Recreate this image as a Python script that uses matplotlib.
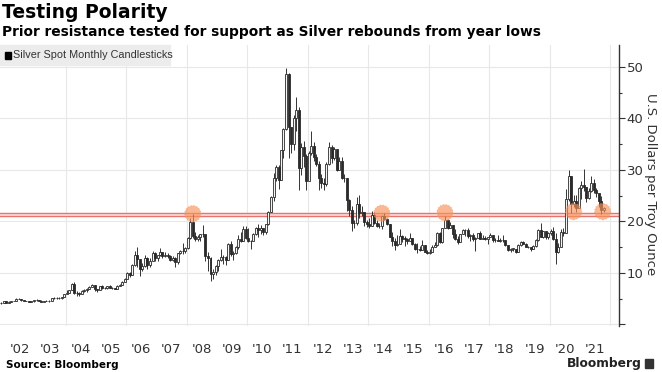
import numpy as np
import pandas as pd
import matplotlib
matplotlib.use("Agg")
import matplotlib.pyplot as plt
import matplotlib.dates as mdates
from matplotlib.patches import Rectangle

# Monthly silver spot, Nov 2001 .. Oct 2021 (open = previous month close)
first_open = 4.18
closes = [
    4.13, 4.60,
    4.22, 4.43, 4.56, 4.56, 4.98, 4.91, 4.66, 4.55, 4.55, 4.43, 4.47, 4.67,
    4.80, 4.55, 4.39, 4.55, 4.56, 4.56, 5.09, 5.16, 5.14, 5.11, 5.35, 5.96,
    6.11, 6.69, 7.87, 6.17, 6.08, 5.83, 6.54, 6.73, 6.93, 7.27, 7.63, 6.82,
    6.72, 7.48, 7.14, 7.00, 7.41, 7.09, 7.05, 6.87, 7.53, 7.70, 8.31, 8.83,
    9.93, 9.65, 11.48, 13.40, 12.72, 10.81, 11.28, 12.90, 11.49, 12.37, 13.91, 12.90,
    13.47, 14.14, 13.37, 13.57, 13.32, 12.46, 12.94, 12.03, 13.81, 14.22, 14.31, 14.76,
    16.81, 19.84, 17.19, 16.52, 16.92, 17.56, 17.52, 13.36, 12.93, 9.87, 10.17, 11.30,
    12.54, 13.03, 13.11, 12.49, 15.68, 13.59, 13.95, 14.95, 16.66, 16.29, 18.47, 16.84,
    16.14, 16.29, 17.50, 18.70, 18.30, 18.67, 17.99, 19.42, 21.85, 24.70, 28.39, 30.63,
    27.96, 33.81, 37.87, 48.58, 38.28, 35.03, 40.03, 41.58, 30.45, 34.49, 32.72, 27.90,
    33.25, 34.55, 32.48, 31.12, 28.39, 27.42, 27.33, 31.15, 34.54, 32.28, 34.10, 29.95,
    31.82, 28.44, 28.34, 24.19, 22.26, 19.72, 19.71, 23.47, 21.70, 21.88, 19.80, 19.50,
    19.15, 21.25, 19.75, 19.07, 19.04, 21.04, 20.40, 19.44, 17.05, 16.20, 15.50, 15.57,
    17.23, 16.64, 16.62, 16.14, 16.77, 15.64, 14.71, 14.63, 14.51, 15.50, 14.14, 13.82,
    14.14, 14.98, 15.41, 17.84, 16.06, 18.69, 20.35, 18.67, 19.24, 17.64, 16.54, 15.99,
    17.48, 18.41, 18.26, 17.23, 17.46, 16.56, 16.74, 17.69, 16.65, 16.74, 16.51, 16.92,
    17.34, 16.42, 16.35, 16.29, 16.44, 16.30, 15.50, 14.42, 14.68, 14.68, 14.15, 15.48,
    16.08, 15.61, 15.11, 14.97, 14.56, 15.31, 16.38, 18.35, 16.96, 18.11, 16.99, 17.85,
    18.05, 16.64, 13.97, 14.98, 17.90, 17.78, 24.38, 28.73, 23.44, 23.89, 22.64, 26.41,
    26.99, 26.68, 24.50, 25.95, 27.48, 26.07, 25.50, 23.98, 22.21, 22.60,
]
highs = [
    4.33, 4.65,
    4.62, 4.47, 4.64, 4.64, 5.11, 5.10, 5.00, 4.66, 4.65, 4.56, 4.58, 4.77,
    4.93, 4.81, 4.67, 4.64, 4.79, 4.67, 5.20, 5.35, 5.24, 5.24, 5.41, 5.98,
    6.64, 6.78, 7.98, 8.29, 6.50, 6.29, 6.73, 6.88, 7.06, 7.49, 7.85, 7.71,
    6.86, 7.55, 7.58, 7.34, 7.47, 7.62, 7.31, 7.14, 7.57, 7.83, 8.35, 9.05,
    10.10, 10.22, 11.72, 14.17, 14.94, 12.78, 11.93, 13.41, 13.13, 12.81, 14.20, 14.06,
    13.55, 14.85, 14.14, 14.08, 13.87, 13.55, 13.20, 13.00, 13.86, 14.55, 15.82, 14.98,
    16.96, 20.68, 21.35, 17.88, 17.34, 17.61, 19.40, 17.12, 14.03, 13.00, 10.85, 11.52,
    12.64, 14.60, 13.53, 13.30, 15.81, 16.22, 14.21, 15.21, 17.34, 17.86, 19.16, 19.18,
    18.81, 16.40, 17.76, 18.89, 19.43, 19.32, 18.68, 19.50, 22.09, 25.01, 29.34, 31.00,
    30.93, 33.92, 38.18, 49.79, 48.72, 38.36, 40.72, 44.23, 42.26, 35.29, 35.63, 33.17,
    33.71, 37.47, 35.47, 33.05, 31.67, 29.16, 28.39, 31.48, 35.36, 34.84, 34.43, 34.15,
    32.46, 32.43, 29.17, 28.47, 24.39, 22.94, 20.36, 24.74, 25.12, 22.91, 21.74, 20.33,
    20.61, 22.04, 21.78, 20.35, 19.71, 21.18, 21.63, 20.67, 19.52, 17.86, 16.85, 17.34,
    18.50, 17.36, 17.21, 16.77, 17.78, 16.78, 15.82, 15.78, 15.22, 16.47, 15.47, 14.47,
    14.70, 15.48, 15.98, 17.86, 18.00, 18.77, 21.14, 20.47, 19.95, 19.32, 18.55, 17.23,
    17.52, 18.49, 18.50, 18.66, 17.56, 17.69, 16.91, 17.85, 18.20, 17.46, 17.18, 17.04,
    17.72, 17.30, 16.75, 17.33, 16.69, 17.30, 16.05, 15.48, 14.91, 14.86, 14.67, 15.58,
    16.18, 16.12, 15.73, 15.21, 14.99, 15.51, 16.60, 18.61, 19.75, 18.21, 18.02, 17.97,
    18.60, 18.91, 17.80, 15.73, 18.50, 18.71, 26.20, 29.91, 28.90, 25.22, 25.08, 26.77,
    27.76, 30.10, 26.67, 26.47, 28.75, 28.29, 26.47, 24.87, 24.84, 22.85,
]
lows = [
    4.05, 4.12,
    4.20, 4.21, 4.40, 4.48, 4.56, 4.87, 4.60, 4.49, 4.49, 4.36, 4.38, 4.44,
    4.63, 4.46, 4.37, 4.36, 4.53, 4.45, 4.48, 4.94, 4.88, 4.86, 5.02, 5.30,
    5.92, 6.05, 6.65, 5.83, 5.50, 5.61, 5.82, 6.25, 6.36, 6.83, 7.18, 6.59,
    6.39, 6.66, 6.90, 6.84, 6.96, 7.05, 6.93, 6.79, 6.83, 7.39, 7.72, 8.19,
    8.78, 9.27, 9.64, 11.28, 11.14, 9.42, 10.36, 11.22, 10.86, 11.09, 12.36, 12.33,
    12.38, 13.32, 12.92, 13.09, 12.82, 12.36, 12.40, 11.14, 11.79, 13.63, 13.68, 13.95,
    14.71, 16.60, 16.88, 16.28, 16.18, 16.17, 17.07, 12.32, 10.41, 8.45, 8.80, 9.58,
    10.44, 12.23, 11.74, 11.62, 12.48, 13.29, 12.45, 13.73, 14.60, 16.00, 16.12, 16.55,
    15.92, 14.64, 16.38, 17.40, 17.03, 17.62, 17.36, 17.49, 19.26, 21.77, 23.97, 27.79,
    26.35, 28.04, 32.35, 37.75, 32.33, 33.30, 33.77, 37.60, 26.07, 29.00, 30.54, 26.15,
    28.00, 32.90, 31.74, 30.75, 26.18, 26.56, 26.08, 26.93, 30.97, 31.41, 31.84, 29.83,
    29.94, 28.27, 27.67, 22.09, 21.15, 18.19, 18.81, 19.40, 20.74, 21.01, 19.20, 18.85,
    18.77, 19.14, 19.55, 18.97, 18.69, 18.61, 20.30, 19.25, 16.93, 15.14, 14.42, 15.29,
    15.58, 16.06, 15.27, 15.65, 16.12, 15.50, 14.38, 13.94, 14.28, 14.46, 13.98, 13.62,
    13.59, 14.00, 14.94, 15.21, 15.84, 15.89, 18.68, 18.62, 18.73, 16.72, 16.35, 15.63,
    15.91, 17.51, 17.08, 16.81, 16.19, 16.21, 14.34, 16.70, 16.61, 16.66, 16.46, 15.63,
    16.92, 16.03, 16.05, 16.12, 16.06, 16.03, 15.24, 14.28, 13.97, 14.29, 13.91, 14.10,
    15.32, 15.55, 15.00, 14.79, 14.33, 14.58, 15.07, 16.26, 16.94, 16.87, 16.66, 16.59,
    17.42, 16.38, 11.64, 13.92, 14.99, 17.23, 17.70, 24.06, 21.68, 22.81, 21.89, 22.57,
    24.36, 25.93, 23.78, 24.26, 25.62, 25.60, 24.68, 22.71, 21.42, 21.90,
]

# prior resistance band and the touches marked on the chart
resistance = [21.1, 21.6]
touch_dates = ["2008-03-15", "2014-06-15", "2016-07-15", "2020-10-15", "2021-10-01"]
touch_levels = [21.5, 21.6, 21.7, 21.9, 21.9]

year_labels = ["'02", "'03", "'04", "'05", "'06", "'07", "'08", "'09", "'10", "'11",
               "'12", "'13", "'14", "'15", "'16", "'17", "'18", "'19", "'20", "'21"]

dates = pd.date_range("2001-11-01", periods=len(closes), freq="MS") + pd.Timedelta(days=14)
x = mdates.date2num(dates)
c = np.array(closes)
o = np.array([first_open] + closes[:-1])
h = np.array(highs)
l = np.array(lows)
up = c >= o
bottom = np.minimum(o, c)
height = np.maximum(np.abs(c - o), 0.08)

fig = plt.figure(figsize=(6.62, 3.72), dpi=100)
ax = fig.add_axes([0.0, 1 - 326 / 372, 619 / 662, (326 - 45) / 372])

grid_col = "#e8e8e8"
for yr in range(2004, 2023, 2):
    ax.axvline(mdates.date2num(pd.Timestamp(f"{yr}-01-01")), color=grid_col, lw=0.8, zorder=0)
ax.grid(axis="y", which="major", color=grid_col, lw=0.8, zorder=0)
ax.set_axisbelow(True)

# resistance band
ax.axhspan(resistance[0], resistance[1], color="#fbe4e2", lw=0, zorder=1)
for lvl in resistance:
    ax.axhline(lvl, color="#e8736e", lw=1.0, zorder=2)

# candles
ax.vlines(x, l, h, color="#333333", lw=0.7, zorder=3)
ax.bar(x[up], height[up], bottom=bottom[up], width=24, color="#f4f4f4",
       edgecolor="#2a2a2a", lw=0.6, zorder=4)
ax.bar(x[~up], height[~up], bottom=bottom[~up], width=24, color="#2a2a2a",
       edgecolor="#2a2a2a", lw=0.6, zorder=4)

# touch markers
tx = mdates.date2num(pd.to_datetime(touch_dates))
ax.scatter(tx, touch_levels, s=135, color="#f7935a", alpha=0.65,
           edgecolors="#f0a070", linestyle=":", lw=0.8, zorder=5)

ax.set_xlim(mdates.date2num(pd.Timestamp("2001-10-31")),
            mdates.date2num(pd.Timestamp("2022-04-16")))
ax.set_ylim(-0.3, 54.25)

# axes styling
for s in ["left", "top", "bottom"]:
    ax.spines[s].set_visible(False)
ax.spines["right"].set_color("#333333")
ax.spines["right"].set_linewidth(1.0)

ax.yaxis.tick_right()
ax.set_yticks([0, 10, 20, 30, 40, 50])
ax.set_yticklabels(["", "10", "20", "30", "40", "50"])
ax.set_yticks([5, 15, 25, 35, 45], minor=True)
ax.tick_params(axis="y", which="major", length=4, width=0.8, colors="#333333",
               labelsize=9.5, pad=1.5)
ax.tick_params(axis="y", which="minor", length=2.5, width=0.8, colors="#333333")

mid_years = [pd.Timestamp(f"{2002 + i}-07-01") for i in range(len(year_labels))]
ax.set_xticks(mdates.date2num(mid_years))
ax.set_xticklabels(year_labels)
ax.tick_params(axis="x", length=0, labelsize=9.5, colors="#333333", pad=12)

fig.text(650 / 662, 1 - 184 / 372, "U.S. Dollars per Troy Ounce", rotation=270,
         ha="center", va="center", fontsize=9.5, color="#333333")

# legend box
fig.patches.append(Rectangle((0.0, 1 - 65 / 372), 170 / 662, 20 / 372,
                             transform=fig.transFigure, color="#ececec", zorder=0))
fig.patches.append(Rectangle((5 / 662, 1 - 59 / 372), 6 / 662, 7 / 372,
                             transform=fig.transFigure, color="black", zorder=1))
fig.text(13 / 662, 1 - 55.5 / 372, "Silver Spot Monthly Candlesticks", va="center",
         fontsize=7.8, color="#333333", family=["Liberation Sans", "DejaVu Sans"])

# titles
fig.text(2 / 662, 1 - 3 / 372, "Testing Polarity", va="top", fontsize=13.5,
         fontweight="bold", color="black")
fig.text(2 / 662, 1 - 25 / 372,
         "Prior resistance tested for support as Silver rebounds from year lows",
         va="top", fontsize=9.9, fontweight="bold", color="black")

fig.text(6 / 662, 1 - 365 / 372, "Source: Bloomberg", va="center", fontsize=7.5,
         fontweight="bold", color="black")
fig.text(642 / 662, 1 - 363 / 372, "Bloomberg", ha="right", va="center",
         fontsize=8.8, fontweight="bold", color="#222222")
fig.patches.append(Rectangle((645 / 662, 1 - 368 / 372), 8 / 662, 9 / 372,
                             transform=fig.transFigure, color="#333333", zorder=1))

fig.savefig("out.png", dpi=100)
